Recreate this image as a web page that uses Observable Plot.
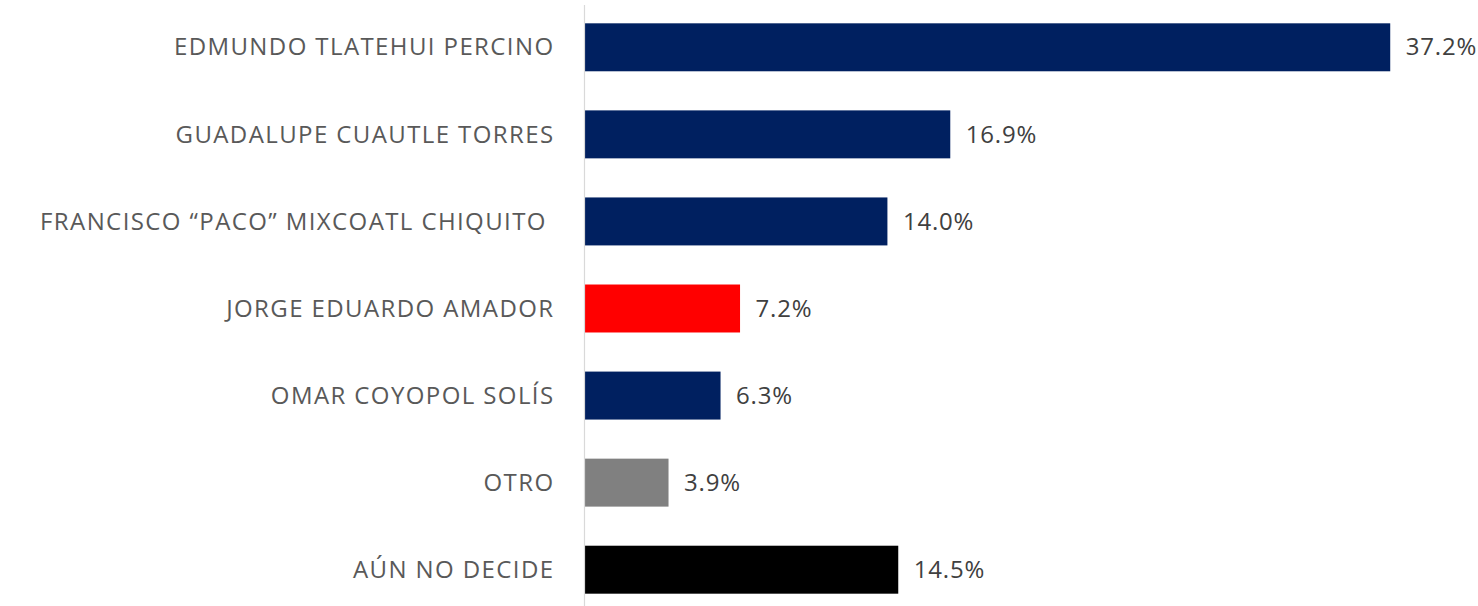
<!DOCTYPE html>
<html>
<head>
<meta charset="utf-8">
<script src="https://cdn.jsdelivr.net/npm/d3@7"></script>
<script src="https://cdn.jsdelivr.net/npm/@observablehq/plot@0.6"></script>
<style>
  html, body { margin: 0; padding: 0; background: #ffffff; }
  #chart svg { display: block; }
  g[aria-label="y-axis tick label"] text { letter-spacing: 1.4px; }
  g.values text { letter-spacing: 0.8px; }
</style>
</head>
<body>
<div id="chart"></div>
<script>
const categories = [
  "EDMUNDO TLATEHUI PERCINO",
  "GUADALUPE CUAUTLE TORRES",
  "FRANCISCO “PACO” MIXCOATL CHIQUITO ",
  "JORGE EDUARDO AMADOR",
  "OMAR COYOPOL SOLÍS",
  "OTRO",
  "AÚN NO DECIDE"
];
const values = [37.2, 16.9, 14.0, 7.2, 6.3, 3.9, 14.5];
const colors = ["#002060", "#002060", "#002060", "#FF0000", "#002060", "#808080", "#000000"];

const data = categories.map((c, i) => ({name: c, value: values[i], color: colors[i]}));

const chart = Plot.plot({
  width: 1478,
  height: 606,
  marginLeft: 584,
  marginRight: 0,
  marginTop: 11,
  marginBottom: 0,
  style: {fontFamily: "'Open Sans', sans-serif", background: "#ffffff"},
  x: {domain: [0, 41.25], axis: null},
  y: {domain: categories, paddingInner: 0.449, paddingOuter: 0.1414, round: false, label: null},
  marks: [
    Plot.barX(data, {y: "name", x: "value", fill: "color"}),
    Plot.ruleX([0], {stroke: "#d9d9d9", strokeWidth: 1.2, insetTop: -6}),
    Plot.text(data, {
      y: "name", x: "value",
      text: d => d.value.toFixed(1) + "%",
      textAnchor: "start", dx: 15,
      fontSize: 24, fill: "#404040", className: "values"
    }),
    Plot.axisY({tickSize: 0, tickPadding: 30, fontSize: 24, color: "#595959", label: null})
  ]
});
document.getElementById("chart").appendChild(chart);
</script>
</body>
</html>
